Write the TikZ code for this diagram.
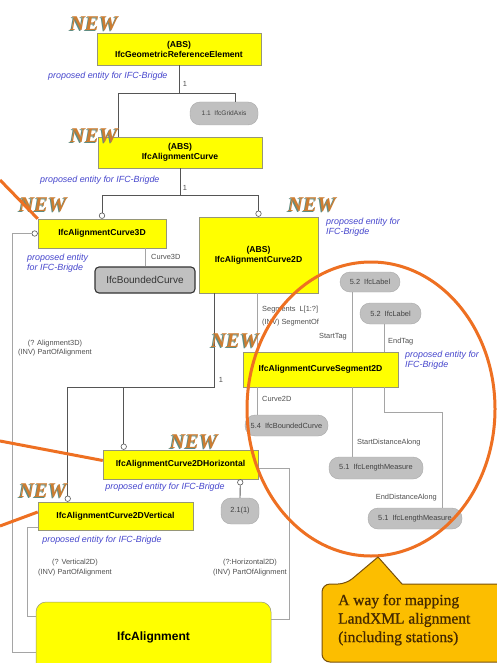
\documentclass[tikz,border=0pt]{standalone}
\usepackage{fontspec}
\setmainfont{Liberation Serif}
\setsansfont{Liberation Sans}
\newfontfamily\calloutfont[FakeBold=0.9]{Liberation Serif}
\usetikzlibrary{calc}

\definecolor{boxyellow}{RGB}{255,255,0}
\definecolor{boxedge}{RGB}{150,150,120}
\definecolor{propblue}{RGB}{70,70,205}
\definecolor{labgrey}{RGB}{80,80,80}
\definecolor{pillgrey}{RGB}{192,192,192}
\definecolor{pilltext}{RGB}{65,65,65}
\definecolor{darkline}{RGB}{85,85,85}
\definecolor{lightline}{RGB}{165,165,165}
\definecolor{markorange}{RGB}{238,112,34}
\definecolor{calloutfill}{RGB}{252,190,0}
\definecolor{calloutedge}{RGB}{120,80,10}
\definecolor{callouttext}{RGB}{70,42,0}
\definecolor{newteal}{RGB}{95,140,130}
\definecolor{neworange}{RGB}{205,125,50}

\tikzset{
  ybox/.style={draw=boxedge, line width=0.5pt, fill=boxyellow, inner sep=0pt,
    align=center, font=\sffamily\bfseries\fontsize{8.6}{10}\selectfont},
  pill/.style={fill=pillgrey, draw=pillgrey!88!black, line width=0.4pt,
    rounded corners=10pt, inner sep=0pt, text=pilltext,
    font=\sffamily\fontsize{7.4}{8.4}\selectfont},
  note/.style={text=propblue, inner sep=0pt, align=left,
    font=\sffamily\itshape\fontsize{8.9}{9.8}\selectfont},
  lab/.style={text=labgrey, inner sep=0pt,
    font=\sffamily\fontsize{7.4}{9.6}\selectfont},
  conn/.style={draw=darkline, line width=0.9pt},
  attr/.style={draw=lightline, line width=0.8pt},
  ring/.style={circle, draw=darkline, fill=white, line width=0.6pt,
    inner sep=0pt, minimum size=5.5pt},
  newshade/.style={text=newteal, inner sep=0pt,
    font=\bfseries\itshape\fontsize{21}{21}\selectfont},
  newtag/.style={text=neworange, inner sep=0pt,
    font=\bfseries\itshape\fontsize{21}{21}\selectfont},
  markline/.style={draw=markorange, line width=3pt},
  callout/.style={fill=calloutfill, draw=calloutedge, line width=1pt}
}

\begin{document}
\begin{tikzpicture}[x=1pt,y=-1pt]
\useasboundingbox (0,0) rectangle (497,663);
\clip (0,0) rectangle (497,663);
\fill[white] (0,0) rectangle (497,663);

% ---------- entity boxes ----------
\node[ybox, minimum width=164pt, minimum height=32pt] (gre) at (179,49)
  {(ABS)\\IfcGeometricReferenceElement};
\node[ybox, minimum width=164pt, minimum height=31pt] (cur) at (180,152.5)
  {(ABS)\\IfcAlignmentCurve};
\node[ybox, minimum width=128pt, minimum height=29pt] (c3) at (102,233.5)
  {IfcAlignmentCurve3D};
\node[ybox, minimum width=119pt, minimum height=76pt] (c2) at (258.5,255)
  {(ABS)\\IfcAlignmentCurve2D};
\node[ybox, minimum width=155pt, minimum height=35pt] (seg) at (320.5,369.5)
  {IfcAlignmentCurveSegment2D};
\node[ybox, minimum width=155pt, minimum height=29pt] (hz) at (180.5,464.5)
  {IfcAlignmentCurve2DHorizontal};
\node[ybox, minimum width=155pt, minimum height=28pt] (vt) at (115.5,516)
  {IfcAlignmentCurve2DVertical};
\node[ybox, rounded corners=10pt, minimum width=235pt, minimum height=70pt,
  font=\sffamily\bfseries\fontsize{12}{14}\selectfont] (al) at (153.5,637)
  {IfcAlignment};

\node[draw=black!80, line width=1.1pt, fill=pillgrey, rounded corners=4pt,
  minimum width=100pt, minimum height=26pt, inner sep=0pt,
  font=\sffamily\fontsize{10}{12}\selectfont, text=black!80] (bc) at (145,280)
  {IfcBoundedCurve};

% ---------- referenced types ----------
\node[pill, minimum width=68pt, minimum height=23pt,
  font=\sffamily\fontsize{6.6}{8}\selectfont] (grid) at (224,113.5) {1.1\ \ IfcGridAxis};
\node[pill, minimum width=60pt, minimum height=20pt] (lab1) at (370,282) {5.2\ \ IfcLabel};
\node[pill, minimum width=61pt, minimum height=21pt] (lab2) at (390.5,313.5) {5.2\ \ IfcLabel};
\node[pill, minimum width=83pt, minimum height=21pt] (bcp) at (286.5,425.5) {5.4\ \ IfcBoundedCurve};
\node[pill, minimum width=94pt, minimum height=22pt] (len1) at (376,468) {5.1\ \ IfcLengthMeasure};
\node[pill, minimum width=94pt, minimum height=21pt] (len2) at (415,518.5) {5.1\ \ IfcLengthMeasure};
\node[pill, minimum width=38pt, minimum height=26pt] (two) at (240,511) {2.1(1)};

% ---------- rings at subtype ends ----------
\node[ring, anchor=south] (r3) at (c3.north) {};
\node[ring, anchor=south] (r2) at (c2.north) {};
\node[ring, anchor=east] (r3l) at (c3.west) {};
\node[ring, anchor=south] (rv) at ([xshift=30pt]vt.north west) {};
\node[ring, anchor=south] (rh) at ([xshift=21pt]hz.north west) {};
\node[ring, anchor=north] (rhb) at ([xshift=-18pt]hz.south east) {};

% ---------- helper coordinates ----------
\coordinate (jy) at (0,387);
\coordinate (sx) at (257,0);
\coordinate (tx) at (352,0);
\coordinate (ex) at (384,0);
\coordinate (ex2) at (442,0);
\coordinate (ey) at (0,412);
\coordinate (lx) at (12,0);
\coordinate (vx) at (27,0);
\coordinate (hx) at (289,0);
\coordinate (ya) at (0,652);
\coordinate (yv) at (0,616);
\coordinate (yh) at (0,619);
\path ([xshift=16pt]c2.south west) coordinate (c2l);

% ---------- inheritance connectors ----------
\draw[conn] (gre.south) -- ++(0,28) -| ([xshift=-62pt]cur.north);
\draw[conn] (gre.south) ++(0,28) -| ([xshift=11pt]grid.north);
\draw[conn] (cur.south) -- ++(0,27) -| (r3.north);
\draw[conn] (cur.south) ++(0,27) -| (r2.north);
\draw[conn] (c2l) -- (c2l |- jy) -| (rv.north);
\draw[conn] (rh.north) -- (rh.north |- jy);
\draw[conn] (rhb.south) -- (two.north);

\node[lab] (one1) at (185,84) {1};
\node[lab] (one2) at (185,188) {1};
\node[lab] (one3) at (221,380) {1};

% ---------- attribute connectors ----------
\draw[attr] (bc.north) -- (bc.north |- c3.south);
\draw[attr] (sx |- c2.south) -- (sx |- seg.north);
\draw[attr] (sx |- seg.south) -- (sx |- bcp.north);
\draw[attr] (tx |- lab1.south) -- (tx |- seg.north);
\draw[attr] (ex |- lab2.south) -- (ex |- seg.north);
\draw[attr] (tx |- seg.south) -- (tx |- len1.north);
\draw[attr] (ex |- seg.south) |- (ex2 |- ey) -- (ex2 |- len2.north);

\draw[attr] (r3l.west) -| (lx |- ya) -- (al.west |- ya);
\draw[attr] ([yshift=3pt]vt.south west) -| (vx |- yv) -- (al.west |- yv);
\draw[attr] ([yshift=-3.5pt]hz.east) -| (hx |- yh) -- (al.east |- yh);

% ---------- role labels ----------
\node[lab, anchor=west] (lc3) at (151,257) {Curve3D};
\node[lab, anchor=west, align=left, font=\sffamily\fontsize{7.4}{12.8}\selectfont]
  (lsg) at (262,316) {Segments\ \ L[1:?]\\(INV) SegmentOf};
\node[lab, anchor=east] (lst) at (347,337) {StartTag};
\node[lab, anchor=west] (let) at (388,342) {EndTag};
\node[lab, anchor=west] (lcv) at (262,399) {Curve2D};
\node[lab, anchor=west] (lsd) at (357,443) {StartDistanceAlong};
\node[lab, anchor=east] (led) at (437,498) {EndDistanceAlong};
\node[lab, align=center] (pa3) at (55,348) {(? Alignment3D)\\(INV) PartOfAlignment};
\node[lab, align=center] (pav) at (75,567.5) {(? Vertical2D)\\(INV) PartOfAlignment};
\node[lab, align=center] (pah) at (250,567.5) {(?:Horizontal2D)\\(INV) PartOfAlignment};

% ---------- notes ----------
\node[note, anchor=west] (nt1) at (48,76) {proposed entity for IFC-Brigde};
\node[note, anchor=west] (nt2) at (40,180) {proposed entity for IFC-Brigde};
\node[note, anchor=west] (nt3) at (27,263) {proposed entity\\for IFC-Brigde};
\node[note, anchor=west] (nt4) at (326,227) {proposed entity for\\IFC-Brigde};
\node[note, anchor=west] (nt5) at (405,360) {proposed entity for\\IFC-Brigde};
\node[note] (nt6) at (165,487) {proposed entity for IFC-Brigde};
\node[note] (nt7) at (102,540) {proposed entity for IFC-Brigde};

% ---------- NEW marks ----------
\foreach \px/\py [count=\k] in {94/24, 94/136, 43/205, 312/205, 235/341, 194/442, 43/491}{
  \node[newshade] (ns\k) at (\px-1.2,\py+0.8) {NEW};
  \node[newtag] (nw\k) at (\px,\py) {NEW};
}

% ---------- highlight strokes ----------
\coordinate (o1) at (0,180);
\coordinate (o2) at (0,441);
\coordinate (o3) at (0,526);
\draw[markline] (o1) -- (c3.north west);
\draw[markline] (o2) -- ([yshift=4pt]hz.west);
\draw[markline] (o3) -- ([yshift=4pt]vt.west);
\draw[markline] (371,409) ellipse [x radius=124pt, y radius=147pt];

% ---------- callout ----------
\draw[callout] (346,584) -- (378,557) -- (402,584)
  [rounded corners=8pt] -- (510,584) -- (510,662) -- (322,662) -- (322,584) -- cycle;
\node[anchor=north west, align=left, inner sep=0pt, text=callouttext,
  font=\calloutfont\fontsize{15.5}{18.5}\selectfont] (ctx) at (338,594)
  {A way for mapping\\LandXML alignment\\(including stations)};
\end{tikzpicture}
\end{document}
